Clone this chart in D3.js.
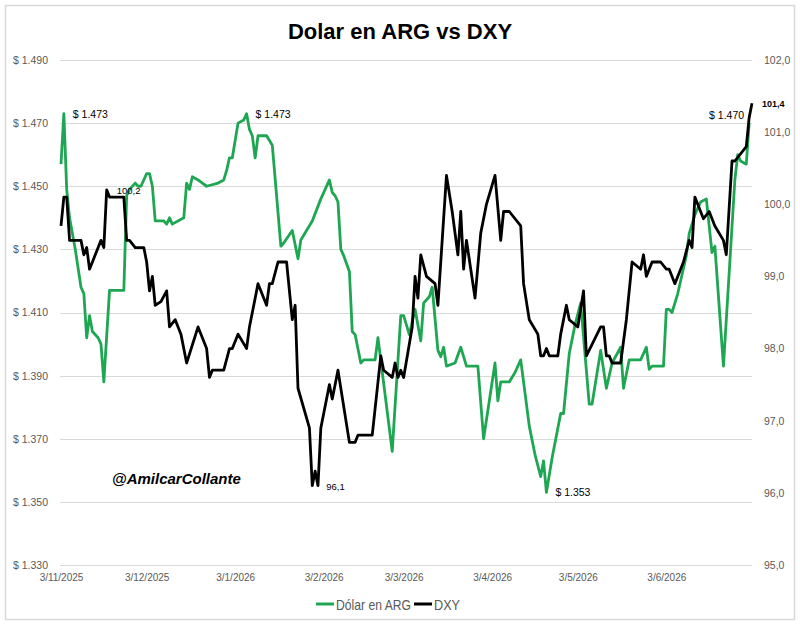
<!DOCTYPE html>
<html><head><meta charset="utf-8">
<script src="https://cdn.jsdelivr.net/npm/d3@7"></script>
<style>body{margin:0;background:#fff}svg{display:block}</style>
</head><body><svg id="c" width="800" height="626"></svg>
<script>
// ---- data ----
const title = "Dolar en ARG vs DXY";
const seriesNames = ["Dólar en ARG", "DXY"];
const watermark = "@AmilcarCollante";
const leftTicks = [1330,1350,1370,1390,1410,1430,1450,1470,1490];
const rightTicks = [95,96,97,98,99,100,101,102];
const xTicks = ["2025-11-03","2025-12-03","2026-01-03","2026-02-03","2026-03-03","2026-04-03","2026-05-03","2026-06-03"];
const arg = [
["2025-11-03",1457],["2025-11-04",1473],["2025-11-05",1449],["2025-11-06",1440],["2025-11-08",1430],
["2025-11-10",1418],["2025-11-11",1416],["2025-11-12",1402],["2025-11-13",1409],["2025-11-14",1404],
["2025-11-16",1402],["2025-11-17",1400],["2025-11-18",1388],["2025-11-20",1417],["2025-11-25",1417],
["2025-11-26",1447],["2025-11-27",1449],["2025-11-29",1451],["2025-11-30",1450],["2025-12-01",1450],
["2025-12-03",1454],["2025-12-04",1454],["2025-12-05",1450],["2025-12-06",1439],["2025-12-09",1439],
["2025-12-10",1438],["2025-12-11",1440],["2025-12-12",1438],["2025-12-16",1440],["2025-12-17",1451],
["2025-12-18",1449],["2025-12-19",1453],["2025-12-21",1452],["2025-12-24",1450],["2025-12-28",1451],
["2025-12-30",1452],["2025-12-31",1455],["2026-01-01",1459],["2026-01-02",1459],["2026-01-04",1470],
["2026-01-06",1471],["2026-01-07",1473],["2026-01-08",1468],["2026-01-09",1466],["2026-01-10",1459],
["2026-01-11",1466],["2026-01-14",1466],["2026-01-16",1463],["2026-01-19",1431],["2026-01-20",1432],
["2026-01-23",1436],["2026-01-25",1427],["2026-01-26",1433],["2026-01-28",1436],["2026-01-30",1439],
["2026-02-02",1446],["2026-02-03",1448],["2026-02-05",1452],["2026-02-06",1448],["2026-02-07",1447],
["2026-02-08",1445],["2026-02-09",1430],["2026-02-10",1428],["2026-02-12",1423],["2026-02-13",1404],
["2026-02-14",1403],["2026-02-16",1394],["2026-02-17",1395],["2026-02-21",1395],["2026-02-22",1402],
["2026-02-27",1366],["2026-03-02",1409],["2026-03-03",1409],["2026-03-05",1403],["2026-03-07",1411],
["2026-03-09",1401],["2026-03-10",1413],["2026-03-12",1415],["2026-03-13",1418],["2026-03-15",1398],
["2026-03-16",1396],["2026-03-17",1399],["2026-03-18",1393],["2026-03-21",1394],["2026-03-23",1399],
["2026-03-25",1393],["2026-03-29",1393],["2026-03-31",1370],["2026-04-04",1394],["2026-04-05",1382],
["2026-04-06",1388],["2026-04-09",1388],["2026-04-11",1391],["2026-04-13",1395],["2026-04-16",1374],
["2026-04-18",1365],["2026-04-20",1358],["2026-04-21",1363],["2026-04-22",1353],["2026-04-24",1364],
["2026-04-27",1378],["2026-04-28",1378],["2026-04-30",1397],["2026-05-02",1406],["2026-05-04",1413],
["2026-05-07",1381],["2026-05-08",1381],["2026-05-11",1398],["2026-05-13",1386],["2026-05-15",1394],
["2026-05-18",1399],["2026-05-19",1386],["2026-05-21",1395],["2026-05-25",1395],["2026-05-27",1399],
["2026-05-28",1392],["2026-05-29",1393],["2026-06-02",1393],["2026-06-03",1411],["2026-06-04",1411],
["2026-06-05",1410],["2026-06-07",1416],["2026-06-10",1428],["2026-06-11",1435],["2026-06-13",1441],
["2026-06-15",1445],["2026-06-17",1446],["2026-06-19",1429],["2026-06-20",1431],["2026-06-23",1393],
["2026-06-27",1452],["2026-06-28",1460],["2026-06-29",1458],["2026-07-01",1457],["2026-07-02",1470]
];
const dxy = [
["2025-11-03",99.7],["2025-11-04",100.1],["2025-11-05",100.1],["2025-11-06",99.5],["2025-11-10",99.5],
["2025-11-11",99.3],["2025-11-12",99.4],["2025-11-13",99.1],["2025-11-17",99.5],["2025-11-18",99.4],
["2025-11-19",100.2],["2025-11-20",100.1],["2025-11-25",100.1],["2025-11-26",99.5],["2025-11-27",99.5],
["2025-11-29",99.4],["2025-12-02",99.4],["2025-12-03",99.2],["2025-12-04",98.8],["2025-12-05",99.0],
["2025-12-06",98.6],["2025-12-08",98.65],["2025-12-10",98.8],["2025-12-11",98.3],["2025-12-13",98.4],
["2025-12-15",98.2],["2025-12-17",97.8],["2025-12-21",98.3],["2025-12-24",98.0],["2025-12-25",97.6],
["2025-12-26",97.7],["2025-12-30",97.7],["2026-01-01",98.0],["2026-01-02",98.0],["2026-01-04",98.2],
["2026-01-07",98.0],["2026-01-08",98.3],["2026-01-11",98.9],["2026-01-14",98.6],["2026-01-15",98.9],
["2026-01-16",98.9],["2026-01-18",99.2],["2026-01-21",99.2],["2026-01-23",98.4],["2026-01-24",98.6],
["2026-01-25",97.45],["2026-01-29",96.9],["2026-01-30",96.1],["2026-01-31",96.3],["2026-02-01",96.1],
["2026-02-02",96.9],["2026-02-05",97.5],["2026-02-06",97.3],["2026-02-08",97.7],["2026-02-12",96.7],
["2026-02-14",96.7],["2026-02-15",96.8],["2026-02-20",96.8],["2026-02-23",97.9],["2026-02-24",97.7],
["2026-02-27",97.6],["2026-02-28",97.8],["2026-03-01",97.6],["2026-03-02",97.7],["2026-03-03",97.6],
["2026-03-06",98.3],["2026-03-07",99.0],["2026-03-08",98.7],["2026-03-09",99.3],["2026-03-11",99.0],
["2026-03-14",98.9],["2026-03-15",98.6],["2026-03-18",100.4],["2026-03-20",99.9],["2026-03-22",99.3],
["2026-03-23",99.9],["2026-03-24",99.1],["2026-03-25",99.5],["2026-03-28",98.7],["2026-03-30",99.6],
["2026-04-01",100.0],["2026-04-04",100.4],["2026-04-06",99.5],["2026-04-07",99.9],["2026-04-09",99.9],
["2026-04-13",99.7],["2026-04-14",98.9],["2026-04-16",98.4],["2026-04-19",98.2],["2026-04-20",97.9],
["2026-04-21",97.9],["2026-04-22",98.0],["2026-04-23",97.9],["2026-04-26",97.9],["2026-04-27",98.2],
["2026-04-29",98.6],["2026-04-30",98.4],["2026-05-03",98.3],["2026-05-05",98.8],["2026-05-06",97.9],
["2026-05-11",98.3],["2026-05-12",98.3],["2026-05-13",97.9],["2026-05-14",97.9],["2026-05-15",97.8],
["2026-05-18",97.8],["2026-05-20",98.4],["2026-05-22",99.2],["2026-05-25",99.1],["2026-05-26",99.3],
["2026-05-27",99.0],["2026-05-29",99.2],["2026-06-01",99.2],["2026-06-03",99.1],["2026-06-04",99.1],
["2026-06-06",98.9],["2026-06-09",99.2],["2026-06-11",99.5],["2026-06-12",99.4],["2026-06-13",100.1],
["2026-06-16",99.8],["2026-06-18",99.9],["2026-06-20",99.7],["2026-06-23",99.5],["2026-06-24",99.3],
["2026-06-26",100.6],["2026-06-27",100.6],["2026-07-01",100.8],["2026-07-02",101.2],["2026-07-03",101.4]
];
// labelled points (dates)
const argLabels = ["2025-11-04","2026-01-07","2026-04-22","2026-07-02"];
const dxyLabels = ["2025-11-19","2026-01-30","2026-07-03"];

// ---- setup ----
const parse = d3.utcParse("%Y-%m-%d");
const loc = d3.formatLocale({decimal:",", thousands:".", grouping:[3], currency:["$ ",""]});
const fmtL = loc.format("$,.0f"), fmtR = loc.format(",.1f");
const fmtX = d3.utcFormat("%-d/%-m/%Y");
const A = arg.map(d => ({date: parse(d[0]), v: d[1]}));
const B = dxy.map(d => ({date: parse(d[0]), v: d[1]}));

const svg = d3.select("#c");
const plot = {l:60, r:752, t:60, b:565};
const x = d3.scaleUtc().domain([parse("2025-11-03"), parse("2026-07-03")]).range([61, 752]);
const yL = d3.scaleLinear().domain([1330,1490]).range([plot.b, plot.t]);
const yR = d3.scaleLinear().domain([95,102]).range([plot.b, plot.t]);
const grey = "#595959", green = "#1fa653";
const font = "'Liberation Sans', Arial, sans-serif";

svg.append("rect").attr("x",5.5).attr("y",5.5).attr("width",789).attr("height",614)
  .attr("fill","#fff").attr("stroke","#d9d9d9").attr("stroke-width",1.5);

svg.append("text").attr("x",400).attr("y",39).attr("text-anchor","middle")
  .attr("font-family",font).attr("font-weight","bold").attr("font-size",22).attr("fill","#000").text(title);

// gridlines
svg.append("g").selectAll("line").data(leftTicks).join("line")
  .attr("x1",plot.l).attr("x2",plot.r).attr("y1",d=>Math.round(yL(d))+0.5).attr("y2",d=>Math.round(yL(d))+0.5)
  .attr("stroke","#d9d9d9").attr("stroke-width",1);

// left axis
const gl = svg.append("g").attr("transform",`translate(${plot.l},0)`)
  .call(d3.axisLeft(yL).tickValues(leftTicks).tickFormat(fmtL).tickSize(0).tickPadding(12));
gl.select(".domain").remove();
gl.selectAll("text").attr("font-family",font).attr("font-size",10.5).attr("fill",grey);

// right axis
const gr = svg.append("g").attr("transform",`translate(${plot.r},0)`)
  .call(d3.axisRight(yR).tickValues(rightTicks).tickFormat(fmtR).tickSize(0).tickPadding(12));
gr.select(".domain").remove();
gr.selectAll("text").attr("font-family",font).attr("font-size",10.5).attr("fill",grey);

// x axis
const gx = svg.append("g").attr("transform",`translate(0,${plot.b})`)
  .call(d3.axisBottom(x).tickValues(xTicks.map(parse)).tickFormat(fmtX).tickSize(0).tickPadding(9));
gx.select(".domain").remove();
gx.selectAll("text").attr("font-family",font).attr("font-size",10).attr("fill",grey);

// lines
const lineA = d3.line().x(d=>x(d.date)).y(d=>yL(d.v));
const lineB = d3.line().x(d=>x(d.date)).y(d=>yR(d.v));
svg.append("path").datum(A).attr("d",lineA).attr("fill","none").attr("stroke",green)
  .attr("stroke-width",2.8).attr("stroke-linejoin","round");
svg.append("path").datum(B).attr("d",lineB).attr("fill","none").attr("stroke","#000")
  .attr("stroke-width",2.8).attr("stroke-linejoin","round");

// watermark
svg.append("text").attr("x",112).attr("y",484).attr("font-family",font).attr("font-weight","bold")
  .attr("font-style","italic").attr("font-size",15).attr("fill","#000").text(watermark);

// data labels
const lab = svg.append("g").attr("font-family",font).attr("fill","#000");
argLabels.forEach((ds,i) => {
  const p = A.find(d => +d.date === +parse(ds));
  const last = i === argLabels.length-1;
  lab.append("text").attr("x", x(p.date) + (last ? -5 : 9)).attr("y", yL(p.v) + (last ? -4 : 4))
    .attr("text-anchor", last ? "end" : "start").attr("font-size",10.5).text(fmtL(p.v));
});
dxyLabels.forEach((ds,i) => {
  const p = B.find(d => +d.date === +parse(ds));
  const last = i === dxyLabels.length-1;
  lab.append("text").attr("x", x(p.date) + (i===1 ? 14 : 10)).attr("y", yR(p.v) + 4)
    .attr("font-size", last ? 9 : 9.5).attr("font-weight", last ? "bold" : "normal").text(fmtR(p.v));
});

// legend (condensed look like the original)
const lg = svg.append("g").attr("font-family",font).attr("font-size",14.5).attr("fill",grey);
const items = [{name:seriesNames[0], c:green, x0:316, w:75}, {name:seriesNames[1], c:"#000", x0:414, w:26}];
items.forEach(it => {
  lg.append("line").attr("x1",it.x0).attr("x2",it.x0+18).attr("y1",604).attr("y2",604).attr("stroke",it.c).attr("stroke-width",3);
  lg.append("text").attr("x",it.x0+20).attr("y",609.5).attr("textLength",it.w)
    .attr("lengthAdjust","spacingAndGlyphs").text(it.name);
});
</script></body></html>
